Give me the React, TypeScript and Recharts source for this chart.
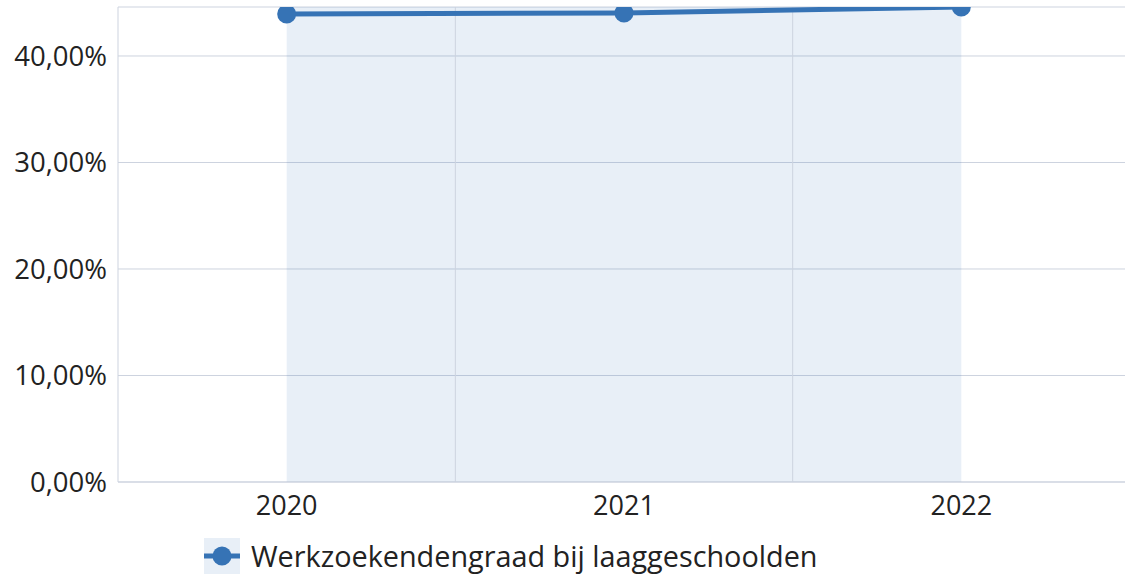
import React from 'react';
import { LineChart, Line, XAxis, YAxis, CartesianGrid, ReferenceArea, ReferenceLine, Legend } from 'recharts';

const years = [2020, 2021, 2022];
const rates = [43.94, 44.04, 44.6];
const yTicks = [0, 10, 20, 30, 40];
const seriesName = 'Werkzoekendengraad bij laaggeschoolden';

const data = years.map((y, i) => ({ year: y, rate: rates[i] }));

const FONT = '"Open Sans", "Noto Sans", sans-serif';
const LINE = '#3673b5';
const GRID = '#cdd3df';

const fmt = (v: number) => v.toFixed(2).replace('.', ',') + '%';

const LegendContent = () => (
  <div style={{ display: 'flex', alignItems: 'center', marginLeft: 204, marginTop: 10, fontFamily: FONT }}>
    <svg width={36} height={36} style={{ display: 'block' }}>
      <rect x={0} y={0} width={36} height={36} fill="#e8eff7" />
      <line x1={0} y1={18} x2={36} y2={18} stroke={LINE} strokeWidth={5} />
      <circle cx={18} cy={18} r={9.5} fill={LINE} />
    </svg>
    <span style={{ marginLeft: 11, fontSize: 28.8, color: '#222', lineHeight: '36px' }}>{seriesName}</span>
  </div>
);

export default function App() {
  return (
    <div style={{ position: 'absolute', left: 0, top: 0, width: 1125, height: 576, background: '#fff', overflow: 'hidden' }}>
      <LineChart width={1125} height={576} data={data} margin={{ top: 7, right: -5, bottom: 0, left: 0 }}>
        <CartesianGrid horizontal vertical={false} stroke={GRID} />
        <ReferenceArea x1={2020} x2={2022} fill="#1a5fb4" fillOpacity={0.1} stroke="none" ifOverflow="visible" />
        <ReferenceLine x={2020.5} stroke={GRID} />
        <ReferenceLine x={2021.5} stroke={GRID} />
        <XAxis
          dataKey="year"
          type="number"
          scale="linear"
          domain={[2019.5, 2022.5]}
          allowDataOverflow
          tickCount={7}
          ticks={years}
          tickLine={false}
          axisLine={{ stroke: GRID }}
          tick={{ fontSize: 27, fill: '#222', fontFamily: FONT }}
          tickMargin={8}
          height={46}
        />
        <YAxis
          width={118}
          domain={[0, 44.6]}
          allowDataOverflow
          ticks={yTicks}
          tickFormatter={fmt}
          tickLine={false}
          axisLine={{ stroke: GRID }}
          tick={{ fontSize: 27.5, fill: '#222', fontFamily: FONT }}
          tickMargin={5}
        />
        <Legend verticalAlign="bottom" align="left" height={48} content={LegendContent} />
        <Line
          type="linear"
          dataKey="rate"
          name={seriesName}
          stroke={LINE}
          strokeWidth={5}
          dot={{ r: 9.5, fill: LINE, stroke: 'none' }}
          isAnimationActive={false}
        />
      </LineChart>
    </div>
  );
}
